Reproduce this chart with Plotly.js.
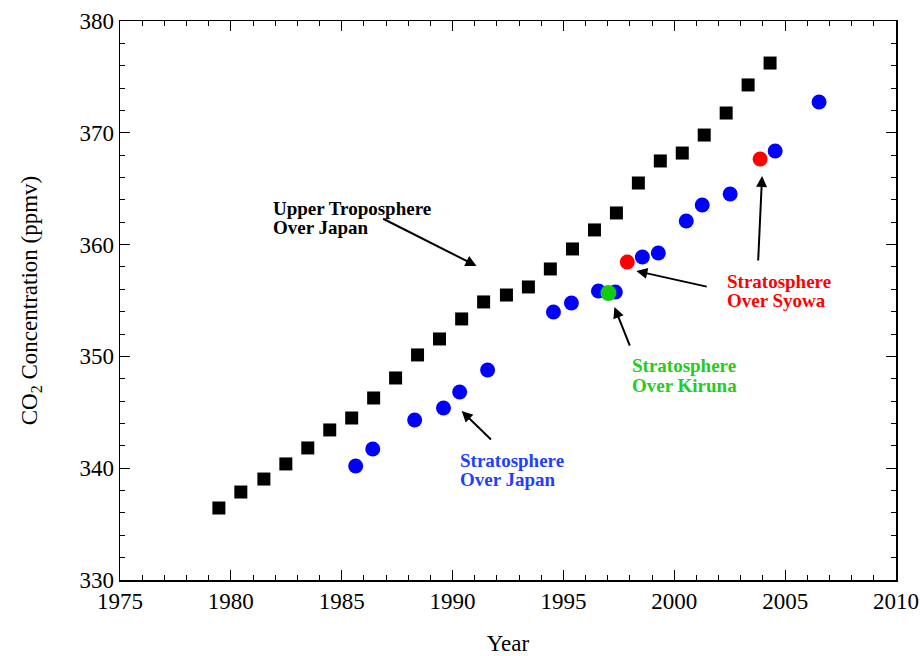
<!DOCTYPE html>
<html>
<head>
<meta charset="utf-8">
<script src="https://cdn.plot.ly/plotly-3.0.1.min.js"></script>
<style>html,body{margin:0;padding:0;background:#fff;}#chart{width:920px;height:656px;}</style>
</head>
<body>
<div id="chart"></div>
<script>
// Upper troposphere over Japan (black squares)
const tropYears = [1979.46,1980.45,1981.49,1982.48,1983.47,1984.46,1985.45,1986.44,1987.43,1988.42,1989.41,1990.41,1991.40,1992.43,1993.42,1994.41,1995.41,1996.40,1997.39,1998.38,1999.37,2000.36,2001.35,2002.34,2003.33,2004.32];
const tropCO2 = [336.44,337.87,339.03,340.38,341.81,343.42,344.49,346.28,348.07,350.13,351.56,353.35,354.87,355.49,356.21,357.82,359.61,361.31,362.83,365.51,367.48,368.19,369.80,371.77,374.28,376.24];
// Stratosphere over Japan (blue circles)
const japanYears = [1985.63,1986.40,1988.29,1989.59,1990.32,1991.58,1994.55,1995.36,1996.58,1997.34,1998.56,1999.28,2000.54,2001.26,2002.52,2004.55,2006.53];
const japanCO2 = [340.20,341.72,344.31,345.38,346.82,348.78,353.97,354.78,355.85,355.76,358.89,359.25,362.11,363.54,364.53,368.37,372.75];
// Stratosphere over Syowa (red)
const syowaYears = [1997.88,2003.87];
const syowaCO2 = [358.44,367.66];
// Stratosphere over Kiruna (green)
const kirunaYears = [1997.03];
const kirunaCO2 = [355.67];

const serif = "Liberation Serif, Times New Roman, serif";

const traces = [
  {x: tropYears, y: tropCO2, type:'scatter', mode:'markers', marker:{symbol:'square', size:13, color:'#000'}},
  {x: japanYears, y: japanCO2, type:'scatter', mode:'markers', marker:{symbol:'circle', size:15, color:'#0000ff'}},
  {x: syowaYears, y: syowaCO2, type:'scatter', mode:'markers', marker:{symbol:'circle', size:15, color:'#ff0000'}},
  {x: kirunaYears, y: kirunaCO2, type:'scatter', mode:'markers', marker:{symbol:'circle', size:16, color:'#11cc11'}}
];

function label(x, y, text, color) {
  return {x:x, y:y, xref:'x', yref:'y', text:'<b>'+text+'</b>', showarrow:false,
          xanchor:'left', yanchor:'middle', borderpad:0,
          font:{family:serif, size:19, color:color}};
}
function arrow(tx, ty, hx, hy) {
  return {x:hx, y:hy, ax:tx, ay:ty, xref:'x', yref:'y', axref:'x', ayref:'y', text:'',
          showarrow:true, arrowhead:2, arrowsize:1.1, arrowwidth:2, arrowcolor:'#000', standoff:0, startstandoff:0};
}

const annotations = [
  label(1981.85, 363.27, 'Upper Troposphere', '#000'),
  label(1981.85, 361.57, 'Over Japan', '#000'),
  label(1990.30, 340.73, 'Stratosphere', '#1f3fff'),
  label(1990.30, 339.03, 'Over Japan', '#1f3fff'),
  label(1998.06, 349.20, 'Stratosphere', '#22cc22'),
  label(1998.06, 347.44, 'Over Kiruna', '#22cc22'),
  label(2002.34, 356.66, 'Stratosphere', '#ff0000'),
  label(2002.34, 355.04, 'Over Syowa', '#ff0000'),
  arrow(1986.80, 362.38, 1991.08, 358.09),
  arrow(1991.80, 342.43, 1990.41, 345.12),
  arrow(1998.02, 350.84, 1997.30, 354.42),
  arrow(2001.53, 356.21, 1998.29, 357.64),
  arrow(2003.78, 358.44, 2003.96, 366.14)
];

const layout = {
  width:920, height:656,
  margin:{l:120, r:24, t:21, b:76},
  paper_bgcolor:'#fff', plot_bgcolor:'#fff',
  showlegend:false,
  font:{family:serif, color:'#000'},
  xaxis:{
    range:[1975,2010], dtick:5, tick0:1975,
    ticks:'inside', ticklen:10, tickwidth:1.2, tickcolor:'#000',
    minor:{dtick:1, ticks:'inside', ticklen:5, tickwidth:1, tickcolor:'#000'},
    showline:true, linecolor:'#000', linewidth:1.5, mirror:'allticks',
    showgrid:false, zeroline:false,
    tickfont:{family:serif, size:23, color:'#000'},
    title:{text:'Year', font:{family:serif, size:23, color:'#000'}, standoff:26}
  },
  yaxis:{
    range:[330,380], dtick:10, tick0:330,
    ticks:'inside', ticklen:10, tickwidth:1.2, tickcolor:'#000',
    minor:{dtick:2, ticks:'inside', ticklen:5, tickwidth:1, tickcolor:'#000'},
    showline:true, linecolor:'#000', linewidth:1.5, mirror:'allticks',
    showgrid:false, zeroline:false,
    tickfont:{family:serif, size:23, color:'#000'},
    title:{text:'CO<sub>2</sub> Concentration (ppmv)', font:{family:serif, size:23, color:'#000'}, standoff:35}
  },
  annotations: annotations
};

Plotly.newPlot('chart', traces, layout, {displayModeBar:false, staticPlot:true});
</script>
</body>
</html>
